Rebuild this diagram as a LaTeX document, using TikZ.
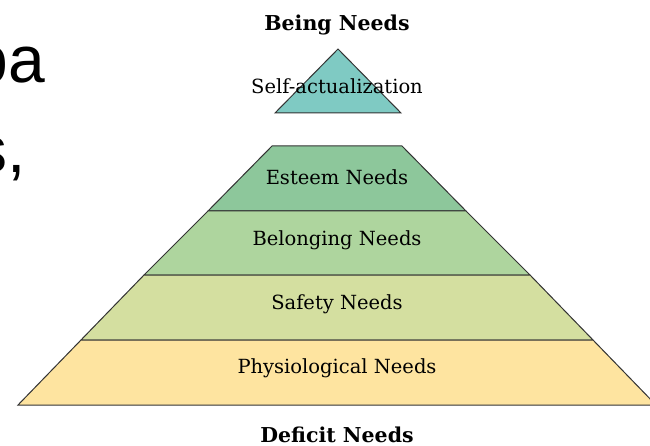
\documentclass[tikz,border=0pt]{standalone}
\usepackage{fontspec}
\setmainfont{DejaVu Serif}
\newfontfamily\slidefont{Liberation Sans}
\usetikzlibrary{positioning}

\begin{document}
\begin{tikzpicture}[x=1pt, y=-1pt,
      every node/.append style={align=center, inner sep=0pt},
      layer/.style={draw=black!80, line width=1pt},
      lbl/.style={font=\fontsize{19.5}{19.5}\selectfont},
      hdr/.style={font=\fontsize{20.5}{20.5}\selectfont\bfseries},
      slide/.style={anchor=base east, font=\slidefont\fontsize{66}{66}\selectfont}]

  \useasboundingbox (0,0) rectangle (650,446);
  \begin{scope}
    \clip (0,0) rectangle (650,446);
    \node[slide] (pa) at (45,83)  {pa};
    \node[slide] (s)  at (26,173) {s,};

    \filldraw[layer, fill={rgb,255:red,127;green,202;blue,195}]
      (275,113) -- (338,49) -- (401,113) -- cycle;
    \filldraw[layer, fill={rgb,255:red,141;green,199;blue,155}]
      (272,146) -- (402,146) -- (466,211) -- (208,211) -- cycle;
    \filldraw[layer, fill={rgb,255:red,174;green,213;blue,158}]
      (208,211) -- (466,211) -- (530,275) -- (144,275) -- cycle;
    \filldraw[layer, fill={rgb,255:red,212;green,223;blue,160}]
      (144,275) -- (530,275) -- (593,340) -- (81,340) -- cycle;
    \filldraw[layer, fill={rgb,255:red,254;green,228;blue,160}]
      (81,340) -- (593,340) -- (656,405) -- (18,405) -- cycle;
  \end{scope}

  \node[hdr] (being)   at (337,25)  {Being Needs};
  \node[lbl] (self)    at (337,86)  {Self-actualization};
  \node[lbl] (esteem)  at (337,177) {Esteem Needs};
  \node[lbl] (belong)  at (337,240) {Belonging Needs};
  \node[lbl] (safety)  at (337,304) {Safety Needs};
  \node[lbl] (physio)  at (337,368) {Physiological Needs};
  \node[hdr] (deficit) at (337,435) {Deficit Needs};
\end{tikzpicture}
\end{document}
